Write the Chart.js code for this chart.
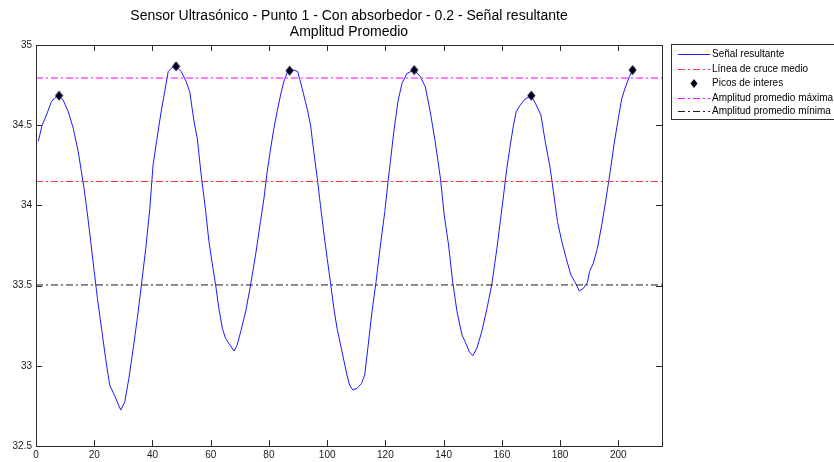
<!DOCTYPE html>
<html>
<head>
<meta charset="utf-8">
<title>Señal resultante</title>
<script src="https://cdn.jsdelivr.net/npm/chart.js@4.4.1/dist/chart.umd.min.js"></script>
<style>
  html, body { margin: 0; padding: 0; background: #fff; }
  canvas { display: block; }
</style>
</head>
<body>
<canvas id="chart" width="834" height="462"></canvas>
<script>
'use strict';

//*****DATA******/

let titleLines = [
  'Sensor Ultrasónico - Punto 1 - Con absorbedor - 0.2 - Señal resultante',
  'Amplitud Promedio'
];
let legendLabels = [
  'Señal resultante',
  'Línea de cruce medio',
  'Picos de interes',
  'Amplitud promedio máxima',
  'Amplitud promedio mínima'
];

let xRange = [0, 215];
let yRange = [32.5, 35];
let xTicks = [0, 20, 40, 60, 80, 100, 120, 140, 160, 180, 200];
let yTicks = [32.5, 33, 33.5, 34, 34.5, 35];

let signalX = [
  0.8, 2.1, 3.6, 5.3, 6.5, 7.9, 9.3, 11.1, 12.8, 14.5, 15.6, 16.5, 17.7, 18.8,
  20.0, 21.1, 22.5, 23.9, 25.3, 27.1, 29.1, 30.5, 31.9, 33.4, 34.8, 36.2, 37.7,
  39.1, 40.2, 41.4, 42.8, 44.2, 45.4, 46.7, 48.1, 49.9, 51.6, 52.8, 54.3, 55.4,
  56.6, 58.3, 59.4, 60.6, 61.7, 62.8, 64.0, 65.1, 66.6, 68.0, 69.1, 70.3, 72.0,
  73.7, 75.4, 77.1, 78.3, 79.4, 80.6, 81.7, 82.8, 84.0, 85.1, 86.3, 87.1, 88.6,
  89.9, 91.4, 93.1, 94.3, 95.4, 96.6, 97.7, 98.8, 100.0, 101.1, 102.3, 103.4,
  105.1, 106.8, 107.7, 108.8, 110.3, 111.8, 112.9, 114.1, 115.4, 116.8, 118.3,
  119.8, 120.9, 121.7, 122.9, 124.3, 125.7, 127.4, 129.9, 132.0, 133.7, 135.4,
  137.1, 138.9, 140.2, 141.7, 143.1, 144.6, 146.3, 147.4, 148.8, 150.0, 151.4,
  153.1, 154.9, 156.6, 158.3, 159.6, 160.6, 161.7, 162.9, 164.0, 164.9, 166.3,
  168.0, 170.1, 171.8, 173.4, 174.9, 176.6, 177.7, 179.1, 180.6, 182.1, 183.7,
  185.2, 186.6, 188.0, 189.4, 190.1, 191.4, 192.8, 194.3, 195.8, 197.2, 198.5,
  200.0, 201.2, 202.3, 203.8, 204.9
];
let signalY = [
  34.400, 34.500, 34.564, 34.647, 34.672, 34.684, 34.657, 34.584, 34.480, 34.335, 34.210, 34.106, 33.940, 33.774,
  33.587, 33.420, 33.234, 33.047, 32.880, 32.810, 32.724, 32.776, 32.922, 33.109, 33.296, 33.504, 33.732,
  33.982, 34.252, 34.397, 34.564, 34.709, 34.834, 34.859, 34.867, 34.834, 34.771, 34.709, 34.520, 34.418,
  34.210, 33.961, 33.774, 33.628, 33.504, 33.358, 33.234, 33.171, 33.130, 33.092, 33.130, 33.213, 33.337,
  33.504, 33.690, 33.899, 34.044, 34.210, 34.356, 34.480, 34.584, 34.688, 34.771, 34.830, 34.840, 34.844,
  34.834, 34.730, 34.605, 34.500, 34.335, 34.169, 34.000, 33.836, 33.670, 33.524, 33.358, 33.234,
  33.088, 32.943, 32.880, 32.849, 32.860, 32.890, 32.943, 33.130, 33.337, 33.525, 33.753,
  33.961, 34.148, 34.273, 34.460, 34.647, 34.761, 34.823, 34.844, 34.803, 34.740, 34.584,
  34.397, 34.169, 33.940, 33.753, 33.525, 33.337, 33.192, 33.150, 33.088, 33.063, 33.109,
  33.213, 33.358, 33.514, 33.732, 33.920, 34.065, 34.231, 34.377, 34.500, 34.584, 34.626,
  34.663, 34.684, 34.626, 34.564, 34.397, 34.231, 34.086, 33.899, 33.774, 33.670, 33.566,
  33.520, 33.466, 33.483, 33.520, 33.587, 33.639, 33.732, 33.878, 34.044, 34.210, 34.377,
  34.543, 34.667, 34.730, 34.803, 34.844
];

let peakX = [7.9, 48.1, 87.1, 129.9, 170.1, 204.9];
let peakY = [34.684, 34.867, 34.840, 34.844, 34.684, 34.844];

let crossLevel = 34.149;
let maxLevel = 34.794;
let minLevel = 33.504;

//*****STYLE******/

let fontFamily = '"Liberation Sans", Arial, Helvetica, sans-serif';
let axisColor = '#2b2b2b';
let signalColor = '#1a1aff';
let crossColor = '#ff3030';
let maxColor = '#ff00ff';
let minColor = '#1a1a1a';
let peakColor = '#00001a';
let dashDot = [7, 3, 2, 3];

//*****HELPERS******/

function toPoints(xs, ys) {
  let points = [];
  for (let i = 0; i < xs.length; i++) {
    points.push({ x: xs[i], y: ys[i] });
  }
  return points;
}

function levelLine(level) {
  return [{ x: xRange[0], y: level }, { x: xRange[1], y: level }];
}

// frame box, inward ticks, title and boxed legend
let decorPlugin = {
  id: 'decor',
  afterDraw(chart) {
    let ctx = chart.ctx;
    let area = chart.chartArea;
    let xs = chart.scales.x;
    let ys = chart.scales.y;
    let tickLen = 6;

    ctx.save();
    ctx.strokeStyle = axisColor;
    ctx.lineWidth = 1;
    ctx.strokeRect(area.left + 0.5, area.top + 0.5, area.right - area.left, area.bottom - area.top);

    ctx.beginPath();
    xTicks.forEach(v => {
      let px = Math.round(xs.getPixelForValue(v)) + 0.5;
      ctx.moveTo(px, area.bottom);
      ctx.lineTo(px, area.bottom - tickLen);
      ctx.moveTo(px, area.top);
      ctx.lineTo(px, area.top + tickLen);
    });
    yTicks.forEach(v => {
      let py = Math.round(ys.getPixelForValue(v)) + 0.5;
      ctx.moveTo(area.left, py);
      ctx.lineTo(area.left + tickLen, py);
      ctx.moveTo(area.right, py);
      ctx.lineTo(area.right - tickLen, py);
    });
    ctx.stroke();

    // title
    ctx.fillStyle = '#000';
    ctx.font = '14px ' + fontFamily;
    ctx.textAlign = 'center';
    ctx.textBaseline = 'middle';
    let cx = (area.left + area.right) / 2;
    ctx.fillText(titleLines[0], cx, 16);
    ctx.fillText(titleLines[1], cx, 32);

    // legend
    let box = { left: 671, top: 44, width: 170, height: 75 };
    ctx.fillStyle = '#fff';
    ctx.fillRect(box.left, box.top, box.width, box.height);
    ctx.strokeStyle = '#333';
    ctx.strokeRect(box.left + 0.5, box.top + 0.5, box.width, box.height);

    let rowY = [54, 68.5, 83, 97.5, 111];
    let sampleL = 678;
    let sampleR = 710;
    ctx.font = '10px ' + fontFamily;
    ctx.textAlign = 'left';
    chart.data.datasets.forEach((ds, i) => {
      let y = Math.round(rowY[i]) + 0.5;
      if (ds.showLine === false) {
        let mx = (sampleL + sampleR) / 2;
        ctx.beginPath();
        ctx.moveTo(mx, y - 4.5);
        ctx.lineTo(mx + 3.5, y);
        ctx.lineTo(mx, y + 4.5);
        ctx.lineTo(mx - 3.5, y);
        ctx.closePath();
        ctx.fillStyle = peakColor;
        ctx.fill();
      } else {
        ctx.beginPath();
        ctx.setLineDash(ds.borderDash || []);
        ctx.strokeStyle = ds.borderColor;
        ctx.lineWidth = 1;
        ctx.moveTo(sampleL, y);
        ctx.lineTo(sampleR, y);
        ctx.stroke();
        ctx.setLineDash([]);
      }
      ctx.fillStyle = '#000';
      ctx.fillText(legendLabels[i], 712, y);
    });
    ctx.restore();
  }
};

// diamond marker for the peaks
let diamond = document.createElement('canvas');
diamond.width = 9;
diamond.height = 11;
let dctx = diamond.getContext('2d');
dctx.fillStyle = peakColor;
dctx.beginPath();
dctx.moveTo(4.5, 0.5);
dctx.lineTo(8.5, 5.5);
dctx.lineTo(4.5, 10.5);
dctx.lineTo(0.5, 5.5);
dctx.closePath();
dctx.fill();

//*****CHART******/

let canvasElem = document.getElementById('chart');

let chartObj = {
  type: 'scatter',
  data: {
    datasets: [
      {
        label: legendLabels[0],
        data: toPoints(signalX, signalY),
        showLine: true,
        borderColor: signalColor,
        borderWidth: 1,
        pointRadius: 0,
        tension: 0,
        order: 5
      },
      {
        label: legendLabels[1],
        data: levelLine(crossLevel),
        showLine: true,
        borderColor: crossColor,
        borderWidth: 1,
        borderDash: dashDot,
        pointRadius: 0,
        order: 4
      },
      {
        label: legendLabels[2],
        data: toPoints(peakX, peakY),
        showLine: false,
        pointStyle: diamond,
        pointRadius: 5,
        order: 0
      },
      {
        label: legendLabels[3],
        data: levelLine(maxLevel),
        showLine: true,
        borderColor: maxColor,
        borderWidth: 1,
        borderDash: dashDot,
        pointRadius: 0,
        order: 3
      },
      {
        label: legendLabels[4],
        data: levelLine(minLevel),
        showLine: true,
        borderColor: minColor,
        borderWidth: 1,
        borderDash: dashDot,
        pointRadius: 0,
        order: 2
      }
    ]
  },
  options: {
    responsive: false,
    animation: false,
    events: [],
    layout: {
      padding: { top: 45, right: 172, left: 0, bottom: 0 }
    },
    plugins: {
      legend: { display: false },
      title: { display: false },
      tooltip: { enabled: false }
    },
    scales: {
      x: {
        type: 'linear',
        min: xRange[0],
        max: xRange[1],
        afterBuildTicks: scale => { scale.ticks = xTicks.map(v => ({ value: v })); },
        afterFit: scale => { scale.height = 16; },
        grid: { display: false, drawTicks: false },
        border: { display: false },
        ticks: {
          padding: 3,
          maxRotation: 0,
          color: '#1a1a1a',
          font: { family: fontFamily, size: 10 },
          callback: v => String(v)
        }
      },
      y: {
        type: 'linear',
        min: yRange[0],
        max: yRange[1],
        afterBuildTicks: scale => { scale.ticks = yTicks.map(v => ({ value: v })); },
        afterFit: scale => { scale.width = 36; },
        grid: { display: false, drawTicks: false },
        border: { display: false },
        ticks: {
          padding: 4,
          color: '#1a1a1a',
          font: { family: fontFamily, size: 10 },
          callback: v => String(v)
        }
      }
    }
  },
  plugins: [decorPlugin]
};

new Chart(canvasElem, chartObj);
</script>
</body>
</html>
